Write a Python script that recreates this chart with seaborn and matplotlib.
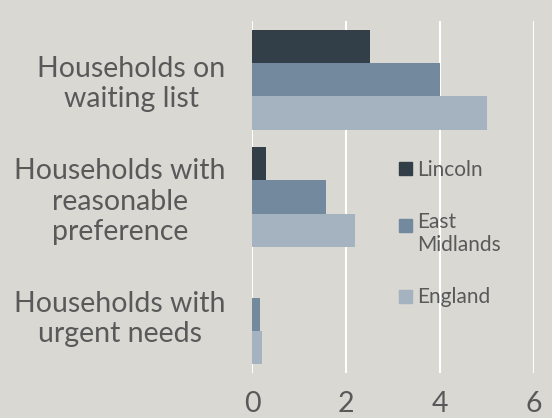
import pandas as pd
import matplotlib.pyplot as plt
import seaborn as sns
from matplotlib.patches import Rectangle, Patch
from matplotlib.legend_handler import HandlerPatch

# data
categories = ['Households on\nwaiting list',
              'Households with\nreasonable\npreference',
              'Households with\nurgent needs']
areas = ['Lincoln', 'East\nMidlands', 'England']
lincoln = [2.5, 0.3, 0.0]
east_midlands = [4.0, 1.57, 0.17]
england = [5.0, 2.2, 0.21]
xticks = [0, 2, 4, 6]

colors = ['#333f48', '#738a9e', '#a5b3c0']
bg = '#d9d8d3'
txt = '#595959'

df = pd.DataFrame({
    'category': categories * 3,
    'area': [a for a in areas for _ in categories],
    'value': lincoln + east_midlands + england,
})

sns.set_style('white', {'axes.facecolor': bg, 'figure.facecolor': bg})
plt.rcParams['font.family'] = ['Lato', 'DejaVu Sans']

fig = plt.figure(figsize=(5.52, 4.18), dpi=100)
ax = fig.add_axes([0.4565, 0.1077, 0.511, 0.842])

sns.barplot(data=df, x='value', y='category', hue='area', hue_order=areas,
            order=categories, palette=colors, saturation=1, width=0.85,
            linewidth=0, orient='h', ax=ax, legend=False)

ax.set_xlim(0, 6)
ax.set_xticks(xticks)
ax.set_xlabel('')
ax.set_ylabel('')
ax.grid(axis='x', color='white', lw=1.5)
ax.grid(axis='y', visible=False)
ax.set_axisbelow(True)
sns.despine(ax=ax, left=True, bottom=True)

ax.tick_params(axis='x', length=0, pad=13, labelsize=20.5, labelcolor=txt)
ax.tick_params(axis='y', length=0, pad=19, labelsize=20.5, labelcolor=txt)
for lab in ax.get_yticklabels():
    lab.set_multialignment('center')
    lab.set_linespacing(1.2)


def square(lift):
    def make(legend, orig_handle, xdescent, ydescent, width, height, fontsize):
        s = 0.62 * fontsize
        return Rectangle((0, 0.02 * fontsize + lift * fontsize), s, s)
    return HandlerPatch(patch_func=make)


handles = [Patch(color=c) for c in colors]
hmap = {handles[0]: square(0), handles[1]: square(0.45), handles[2]: square(0)}
leg = ax.legend(handles, areas, loc='center left', bbox_to_anchor=(0.521, 0.396),
                frameon=False, fontsize=15, labelcolor=txt, labelspacing=1.55,
                handlelength=0.62, handleheight=0.62, handletextpad=0.25,
                borderpad=0, borderaxespad=0, handler_map=hmap)

fig.savefig('out.png', dpi=100, facecolor=bg)
